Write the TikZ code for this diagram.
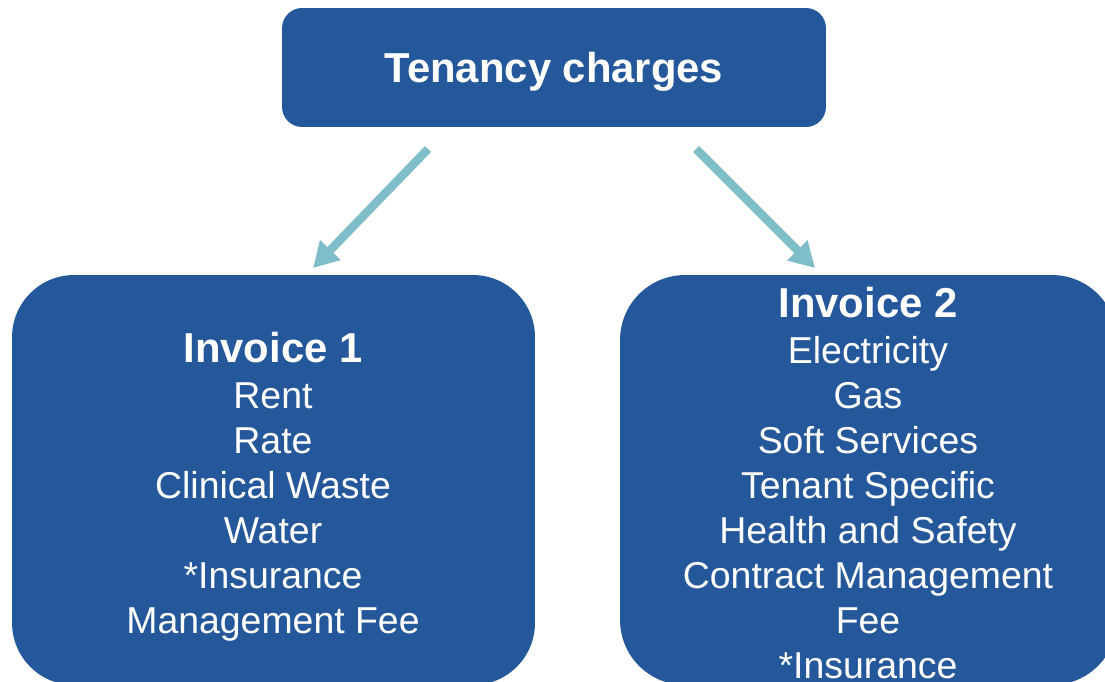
\documentclass[tikz,border=0pt]{standalone}
\usepackage{fontspec}
\setmainfont{Liberation Sans}
\usetikzlibrary{arrows.meta}

\definecolor{azulcaixa}{RGB}{37,87,155}
\definecolor{azulseta}{RGB}{127,190,200}

\tikzset{
  caixa/.style={fill=azulcaixa, inner sep=0pt},
  seta/.style={draw=azulseta, line width=0.17cm, -{Triangle[length=0.5cm, width=0.54cm]}},
  texto/.style={text=white, inner sep=0pt, anchor=base, font=\fontsize{21.3}{25}\selectfont},
  cabec/.style={texto, font=\fontsize{23.8}{28}\selectfont\bfseries}
}

\begin{document}
\begin{tikzpicture}[x=0.02cm, y=-0.02cm]
    \useasboundingbox (0,0) rectangle (1105,682);
    \clip (0,0) rectangle (1105,682);

    % Caixas
    \node[caixa, rounded corners=0.4cm, minimum width=10.88cm, minimum height=2.38cm] (titulo) at (554,67.5) {};
    \node[caixa, rounded corners=1.24cm, minimum width=10.46cm, minimum height=8.2cm] (fatura1) at (273.5,480) {};
    \node[caixa, rounded corners=1.3cm, minimum width=9.94cm, minimum height=8.2cm] (fatura2) at (868.5,480) {};

    % Setas
    \coordinate (p1) at (428,149); % inicio da seta esquerda
    \coordinate (q1) at (313,268); % ponta da seta esquerda
    \coordinate (p2) at (696,149); % inicio da seta direita
    \coordinate (q2) at (815,268); % ponta da seta direita
    \draw[seta] (p1) -- (q1);
    \draw[seta] (p2) -- (q2);

    % Titulo
    \node[cabec] (t0) at (554,83) {Tenancy charges};

    % Fatura 1
    \node[cabec] (a1) at (273,362) {Invoice 1};
    \node[texto] (a2) at (273,408) {Rent};
    \node[texto] (a3) at (273,453) {Rate};
    \node[texto] (a4) at (273,498) {Clinical Waste};
    \node[texto] (a5) at (273,543) {Water};
    \node[texto] (a6) at (273,588) {*Insurance};
    \node[texto] (a7) at (273,633) {Management Fee};

    % Fatura 2
    \node[cabec] (b1) at (868,317) {Invoice 2};
    \node[texto] (b2) at (868,363) {Electricity};
    \node[texto] (b3) at (868,408) {Gas};
    \node[texto] (b4) at (868,453) {Soft Services};
    \node[texto] (b5) at (868,498) {Tenant Specific};
    \node[texto] (b6) at (868,543) {Health and Safety};
    \node[texto] (b7) at (868,588) {Contract Management};
    \node[texto] (b8) at (868,633) {Fee};
    \node[texto] (b9) at (868,678) {*Insurance};
\end{tikzpicture}
\end{document}
